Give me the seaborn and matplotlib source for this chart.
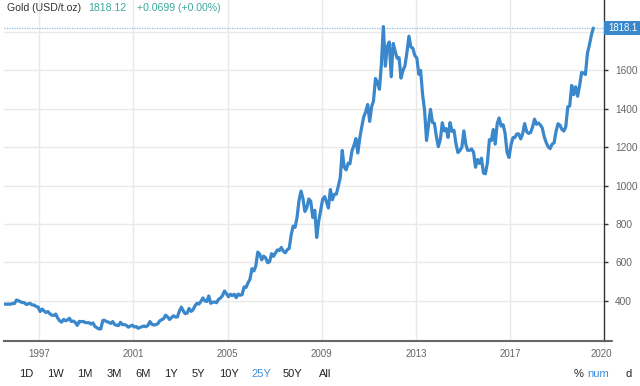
import matplotlib
matplotlib.use("Agg")
import matplotlib.pyplot as plt
import matplotlib.transforms as mtransforms
import seaborn as sns
import pandas as pd
import numpy as np

# Monthly gold price (USD/t.oz), Jul 1995 .. Jul 2020
gold_1995_1999 = [384, 383, 384, 383, 387, 387,
                  405, 401, 396, 392, 391, 382, 385, 387, 379, 379, 371, 369,
                  345, 358, 349, 340, 345, 334, 326, 325, 332, 311, 297, 290,
                  304, 297, 301, 310, 293, 296, 288, 273, 294, 292, 294, 288,
                  287, 287, 280, 286, 268, 261, 255, 255, 299, 299, 292, 290]
gold_2000_2004 = [283, 293, 278, 274, 272, 289, 277, 277, 273, 264, 270, 274,
                  265, 267, 258, 263, 266, 270, 266, 273, 293, 279, 275, 277,
                  282, 297, 302, 308, 326, 318, 304, 313, 323, 317, 317, 347,
                  368, 348, 334, 337, 361, 346, 354, 375, 388, 384, 398, 416,
                  400, 397, 426, 388, 393, 395, 391, 409, 416, 428, 452, 438]
gold_2005_2009 = [422, 435, 428, 435, 417, 436, 430, 433, 473, 470, 495, 513,
                  568, 556, 582, 654, 643, 614, 633, 624, 599, 604, 646, 632,
                  650, 665, 662, 678, 659, 650, 666, 673, 743, 789, 783, 834,
                  923, 971, 933, 865, 885, 930, 918, 834, 871, 730, 815, 869,
                  928, 942, 916, 883, 979, 926, 954, 955, 996, 1040, 1182, 1096]
gold_2010_2014 = [1081, 1116, 1113, 1180, 1207, 1244, 1169, 1248, 1307, 1357, 1384, 1421,
                  1333, 1411, 1439, 1556, 1536, 1500, 1628, 1826, 1620, 1722, 1746, 1565,
                  1738, 1697, 1662, 1664, 1558, 1598, 1622, 1692, 1776, 1720, 1713, 1675,
                  1663, 1578, 1598, 1472, 1393, 1234, 1313, 1396, 1328, 1323, 1253, 1202,
                  1240, 1326, 1284, 1296, 1250, 1327, 1282, 1287, 1216, 1171, 1182, 1199]
gold_2015_2020 = [1284, 1213, 1183, 1183, 1190, 1172, 1095, 1135, 1115, 1142, 1065, 1061,
                  1118, 1238, 1233, 1291, 1215, 1322, 1351, 1309, 1316, 1272, 1173, 1146,
                  1211, 1249, 1249, 1268, 1268, 1242, 1269, 1322, 1280, 1271, 1275, 1303,
                  1345, 1318, 1325, 1315, 1299, 1253, 1224, 1201, 1192, 1215, 1222, 1282,
                  1321, 1313, 1292, 1283, 1305, 1409, 1413, 1520, 1472, 1513, 1464, 1517,
                  1587, 1585, 1577, 1687, 1730, 1781, 1818]

year_ticks = ["1997", "2001", "2005", "2009", "2013", "2017"]
y_ticks = [400, 600, 800, 1000, 1200, 1400, 1600, 1800]
last_value = 1818.12
range_buttons = ["1D", "1W", "1M", "3M", "6M", "1Y", "5Y", "10Y", "25Y", "50Y", "All"]

prices = gold_1995_1999 + gold_2000_2004 + gold_2005_2009 + gold_2010_2014 + gold_2015_2020
dates = pd.date_range("1995-07-01", periods=len(prices), freq="MS") + pd.Timedelta(days=14)
df = pd.DataFrame({"date": dates, "price": prices})

sns.set_style("white")
plt.rcParams["font.family"] = ["Liberation Sans", "DejaVu Sans"]

W, H = 640, 386
fig = plt.figure(figsize=(W / 100, H / 100), dpi=100)
ax = fig.add_axes([4 / W, (H - 341) / H, 600 / W, 341 / H])

LINE = "#3a87cb"
sns.lineplot(data=df, x="date", y="price", ax=ax, color=LINE, linewidth=2.3, zorder=3)

ax.set_xlim(pd.Timestamp("1995-07-05"), pd.Timestamp("2020-12-28"))
ax.set_ylim(192, 1964)
ax.set_xlabel("")
ax.set_ylabel("")

ax.set_xticks([pd.Timestamp(f"{y}-01-01") for y in year_ticks])
ax.set_xticklabels(year_ticks)
ax.tick_params(axis="x", length=0, pad=6, labelsize=7, labelcolor="#666666")

ax.yaxis.tick_right()
ax.set_yticks(y_ticks)
# the 1800 label sits under the last-value box, as in the original
ax.set_yticklabels([str(v) if v != 1800 else "" for v in y_ticks])
ax.tick_params(axis="y", length=3, width=1, color="#333333", pad=5,
               labelsize=7.3, labelcolor="#666666")

ax.grid(True, color="#e9e9e9", linewidth=1)
ax.set_axisbelow(True)
for s in ["top", "left"]:
    ax.spines[s].set_visible(False)
ax.spines["right"].set_color("#333333")
ax.spines["right"].set_linewidth(1)
ax.spines["bottom"].set_color("#666666")
ax.spines["bottom"].set_linewidth(1.5)
ax.plot([1.0, 1.013], [0, 0], transform=ax.transAxes, color="#666666",
        linewidth=1.5, clip_on=False)

# dotted last-value line
ax.axhline(last_value, color="#8fbbe3", linestyle=(0, (1, 1)), linewidth=0.9, zorder=2)
trans = mtransforms.blended_transform_factory(ax.transAxes, ax.transData)
box = matplotlib.patches.Rectangle((1.0, last_value - 38), 0.07, 76, transform=trans,
                                   facecolor=LINE, edgecolor="none", clip_on=False, zorder=9)
ax.add_patch(box)
ax.text(1.0 + 4 / 600, last_value, "1818.1", transform=trans, ha="left", va="center",
        fontsize=6.9, color="white", clip_on=False, zorder=10)

# "2020" label at the right end of the axis
ax.text(597 / 600, -13 / 341, "2020", transform=ax.transAxes,
        ha="center", va="center", fontsize=7, color="#666666")

# title
ty = 1 - 8 / H
fig.text(7 / W, ty, "Gold (USD/t.oz)", fontsize=7.6, color="#333333", va="center")
fig.text(88 / W, ty, "1818.12", fontsize=7.6, color="#3aa89b", va="center")
fig.text(137 / W, ty, "+0.0699 (+0.00%)", fontsize=7.6, color="#3aa89b", va="center")

# range buttons
by = 1 - 374 / H
bx = [26, 55, 85, 114, 143, 171, 198, 229, 261, 292, 325]
for lab, x in zip(range_buttons, bx):
    fig.text(x / W, by, lab, fontsize=8, ha="center", va="center",
             color="#3b8fd9" if lab == "25Y" else "#222222")
fig.text(579 / W, by, "%", fontsize=8, ha="center", va="center", color="#222222")
fig.text(598 / W, by, "num", fontsize=8, ha="center", va="center", color="#3b8fd9")
fig.text(626 / W, by, "d", fontsize=8, ha="left", va="center", color="#222222")

fig.savefig("out.png", dpi=100)
